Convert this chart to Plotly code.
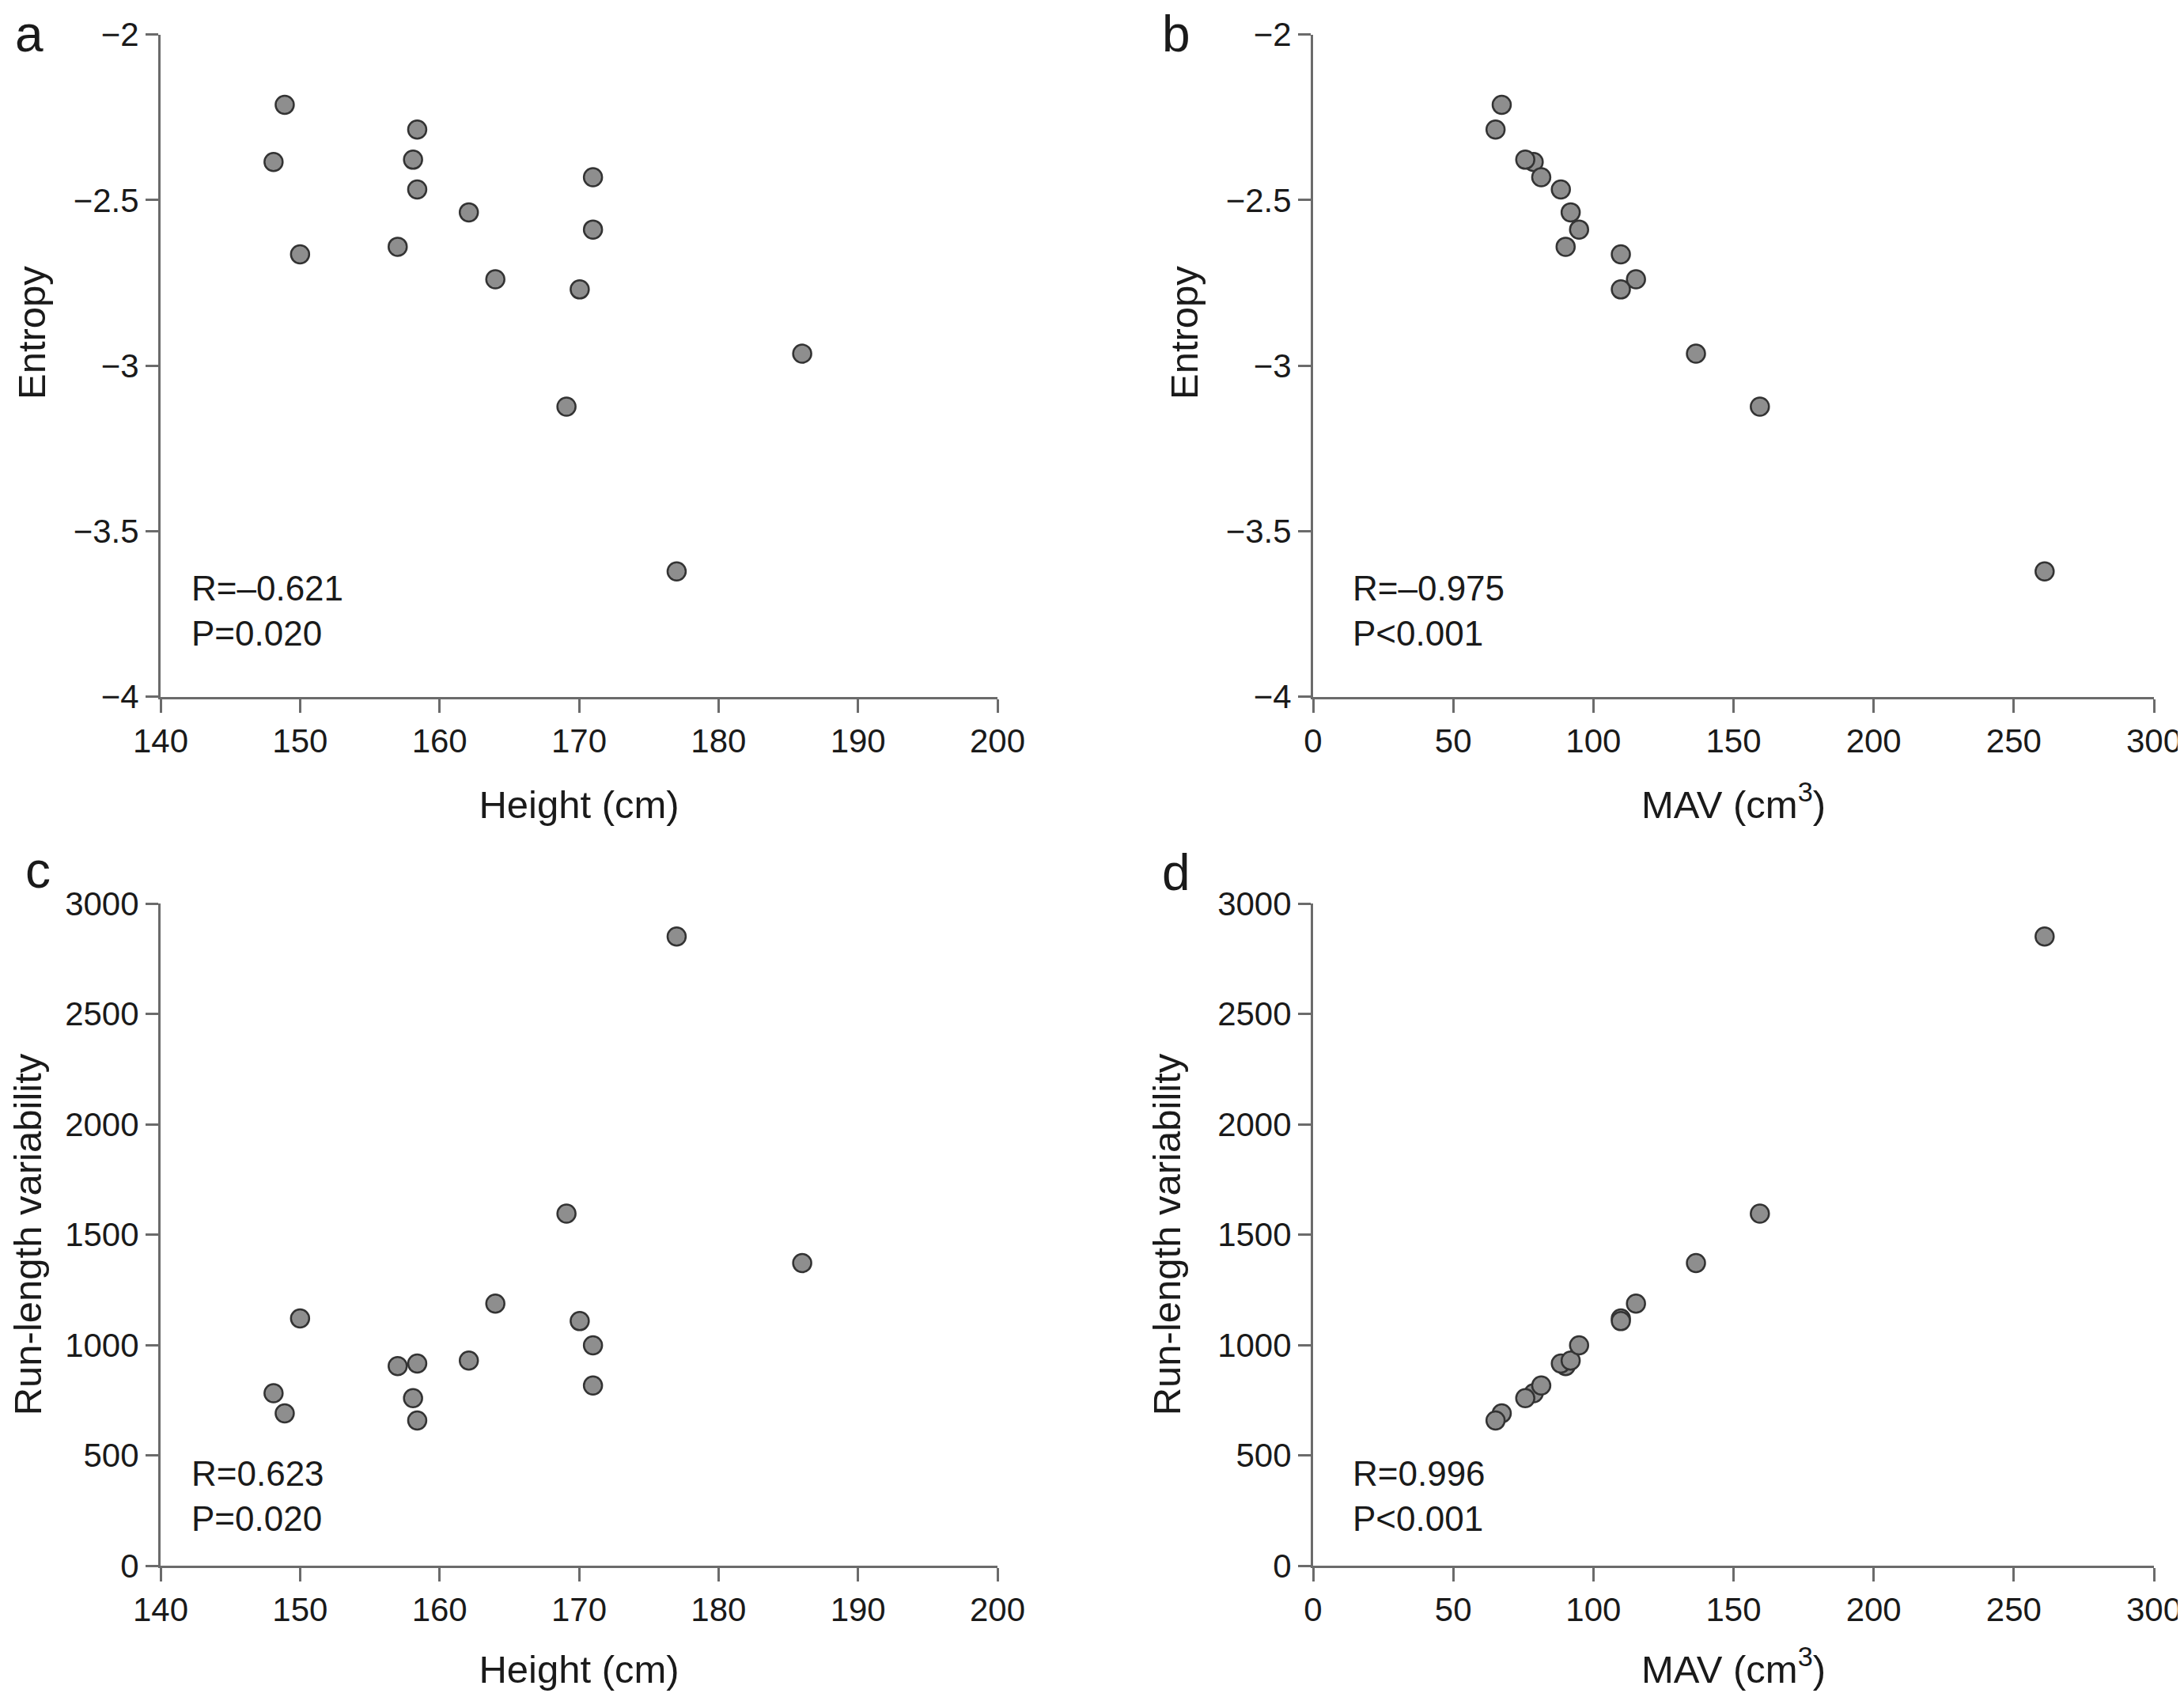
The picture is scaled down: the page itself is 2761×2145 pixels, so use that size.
import plotly.graph_objects as go

# Data per subject (15 subjects)
height_cm = [148.1, 148.9, 150.0, 157.0, 158.1, 158.4, 158.4, 162.1, 164.0, 169.1, 170.05, 171.0, 171.0, 177.0, 186.0]
mav_cm3 = [78.7, 67.3, 109.8, 90.1, 75.7, 65.1, 88.4, 91.9, 115.2, 159.4, 109.8, 81.4, 94.9, 261.0, 136.6]
entropy = [-2.385, -2.212, -2.664, -2.641, -2.378, -2.287, -2.468, -2.537, -2.739, -3.124, -2.770, -2.431, -2.589, -3.622, -2.964]
run_length_var = [781, 690, 1120, 904, 759, 658, 916, 929, 1187, 1595, 1108, 816, 998, 2850, 1371]

panel_letters = ["a", "b", "c", "d"]
stats_text = ["R=–0.621<br>P=0.020", "R=–0.975<br>P<0.001", "R=0.623<br>P=0.020", "R=0.996<br>P<0.001"]
x_titles = ["Height (cm)", "MAV (cm<sup>3</sup>)", "Height (cm)", "MAV (cm<sup>3</sup>)"]
y_titles = ["Entropy", "Entropy", "Run-length variability", "Run-length variability"]

OFF = 8  # page body margin
W, H = 2761 - 2 * OFF, 2145 - 2 * OFF
FONT = "Liberation Sans, Arial, sans-serif"
AXC = "#6b6b6b"
TXT = "#1a1a1a"

def fx(px):
    return (px - OFF) / W

def fy(py):
    return 1 - (py - OFF) / H

xdom_left = [fx(203), fx(1261)]
xdom_right = [fx(1660), fx(2723)]
ydom_top = [fy(880.5), fy(43.7)]
ydom_bot = [fy(1979), fy(1142)]

fig = go.Figure()

panels = [
    (height_cm, entropy, "x", "y"),
    (mav_cm3, entropy, "x2", "y2"),
    (height_cm, run_length_var, "x3", "y3"),
    (mav_cm3, run_length_var, "x4", "y4"),
]
for xs, ys, xa, ya in panels:
    fig.add_trace(go.Scatter(
        x=xs, y=ys, mode="markers", xaxis=xa, yaxis=ya, showlegend=False,
        marker=dict(size=23, color="#8e8e8e", line=dict(color="#333333", width=2.5)),
        cliponaxis=False,
    ))

def xaxis(domain, rng, dtick, anchor, title, standoff):
    return dict(domain=domain, range=rng, dtick=dtick, tick0=rng[0], anchor=anchor,
                automargin=False, ticklabeloverflow="allow",
                showgrid=False, zeroline=False, showline=True, linecolor=AXC, linewidth=3,
                ticks="outside", ticklen=17, tickwidth=3, tickcolor=AXC,
                tickfont=dict(family=FONT, size=42, color=TXT),
                title=dict(text=title, font=dict(family=FONT, size=49, color=TXT), standoff=standoff))

def yaxis(domain, rng, dtick, anchor, title, fmt, standoff):
    d = dict(domain=domain, range=rng, dtick=dtick, tick0=rng[0], anchor=anchor,
             automargin=False, ticklabeloverflow="allow",
             showgrid=False, zeroline=False, showline=True, linecolor=AXC, linewidth=3,
             ticks="outside", ticklen=16, tickwidth=3, tickcolor=AXC, tickformat=fmt,
             tickfont=dict(family=FONT, size=42, color=TXT))
    if title:
        d["title"] = dict(text=title, font=dict(family=FONT, size=49, color=TXT), standoff=standoff)
    return d

fig.update_layout(
    width=W, height=H,
    margin=dict(l=0, r=0, t=0, b=0),
    paper_bgcolor="white", plot_bgcolor="white",
    xaxis=xaxis(xdom_left, [140, 200], 10, "y", x_titles[0], 41),
    yaxis=yaxis(ydom_top, [-4, -2], 0.5, "x", None, "", 26),
    xaxis2=xaxis(xdom_right, [0, 300], 50, "y2", x_titles[1], 41),
    yaxis2=yaxis(ydom_top, [-4, -2], 0.5, "x2", None, "", 26),
    xaxis3=xaxis(xdom_left, [140, 200], 10, "y3", x_titles[2], 38),
    yaxis3=yaxis(ydom_bot, [0, 3000], 500, "x3", y_titles[2], "d", 32),
    xaxis4=xaxis(xdom_right, [0, 300], 50, "y4", x_titles[3], 38),
    yaxis4=yaxis(ydom_bot, [0, 3000], 500, "x4", y_titles[3], "d", 32),
)

# Entropy y-axis titles (placed slightly above axis centre, as in the reference)
for (tx, ty), txt in zip([(40, 421), (1497, 421)], y_titles[:2]):
    fig.add_annotation(x=fx(tx), y=fy(ty), xref="paper", yref="paper", text=txt,
                       textangle=-90, showarrow=False, xanchor="center", yanchor="middle",
                       font=dict(family=FONT, size=49, color=TXT))

# panel letters (positions in figure pixels)
letter_pos = [(9, 73), (1459, 73), (22, 1130), (1459, 1133)]
for (lx, ly), letter in zip(letter_pos, panel_letters):
    fig.add_annotation(x=lx / W, y=1 - ly / H, xref="paper", yref="paper",
                       text=letter, showarrow=False, xanchor="left", yanchor="bottom",
                       font=dict(family=FONT, size=64, color=TXT))

# stats text
stat_refs = [("x domain", "y domain", 0.035, 0.13), ("x2 domain", "y2 domain", 0.045, 0.13),
             ("x3 domain", "y3 domain", 0.035, 0.105), ("x4 domain", "y4 domain", 0.045, 0.105)]
for (xr, yr, sx, sy), txt in zip(stat_refs, stats_text):
    fig.add_annotation(x=sx, y=sy, xref=xr, yref=yr, text=txt, showarrow=False,
                       xanchor="left", yanchor="middle", align="left",
                       font=dict(family=FONT, size=44, color=TXT))

fig.write_html("out.html")
